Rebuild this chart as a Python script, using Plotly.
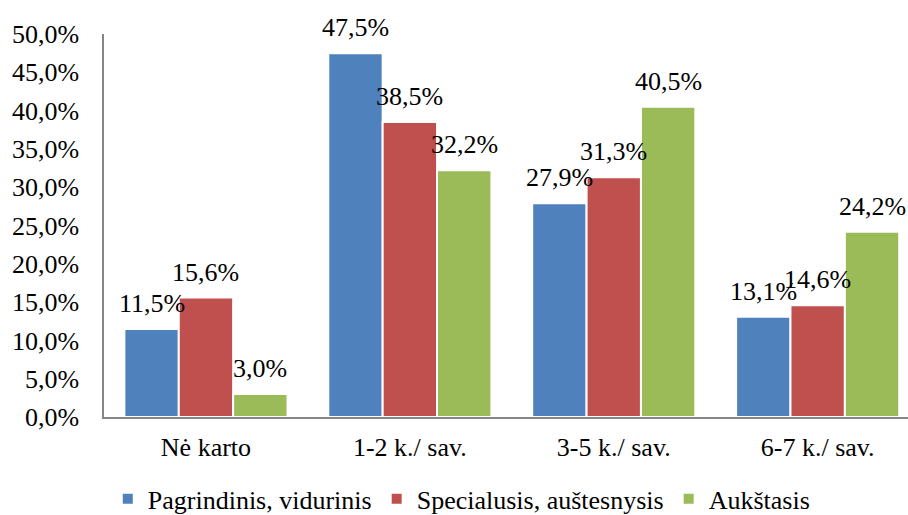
import plotly.graph_objects as go

categories = ["Nė karto", "1-2 k./ sav.", "3-5 k./ sav.", "6-7 k./ sav."]
series_names = ["Pagrindinis, vidurinis", "Specialusis, auštesnysis", "Aukštasis"]
pagrindinis = [11.5, 47.5, 27.9, 13.1]
specialusis = [15.6, 38.5, 31.3, 14.6]
aukstasis = [3.0, 32.2, 40.5, 24.2]
y_ticks = [0, 5, 10, 15, 20, 25, 30, 35, 40, 45, 50]
y_tick_labels = [f"{t:.1f}".replace(".", ",") + "%" for t in y_ticks]

colors = ["#4F81BD", "#C0504D", "#9BBB59"]
series = [pagrindinis, specialusis, aukstasis]
FONT = "Liberation Serif"
FS = 26

fig = go.Figure()
for name, vals, col in zip(series_names, series, colors):
    fig.add_trace(go.Bar(
        x=list(range(len(categories))), y=vals, name=name,
        marker=dict(color=col, line=dict(color="white", width=2)),
    ))

bargap = 0.2
slot = (1 - bargap) / 3
anns = []
for k, vals in enumerate(series):
    for i, v in enumerate(vals):
        anns.append(dict(
            x=i + (k - 1) * slot, y=v, xref="x", yref="y",
            text=f"{v:.1f}".replace(".", ",") + "%",
            showarrow=False, yanchor="bottom", yshift=9,
            font=dict(family=FONT, size=FS, color="black"),
        ))

fig.update_layout(
    width=908, height=515,
    margin=dict(l=104, r=0, t=34, b=98, autoexpand=False),
    paper_bgcolor="white", plot_bgcolor="white",
    barmode="group", bargap=bargap, bargroupgap=0,
    font=dict(family=FONT, size=FS, color="black"),
    showlegend=True,
    legend=dict(orientation="h", x=0.445, xanchor="center", y=-0.214, yanchor="middle",
                font=dict(family=FONT, size=FS, color="black"), itemwidth=30),
    annotations=anns,
)
fig.update_xaxes(
    tickmode="array", tickvals=list(range(len(categories))), ticktext=categories,
    range=[-0.5, 3.443], showline=True, linecolor="#868686", linewidth=1.5,
    showgrid=False, ticks="", ticklabelstandoff=6, zeroline=False, automargin=False,
    tickfont=dict(family=FONT, size=FS, color="black"),
)
fig.update_yaxes(
    range=[0, 50], tickmode="array", tickvals=y_ticks, ticktext=y_tick_labels,
    showline=True, linecolor="#868686", linewidth=1.5, showgrid=False,
    ticks="", ticklabelstandoff=18, zeroline=False, automargin=False,
    tickfont=dict(family=FONT, size=FS, color="black"),
)

fig.write_html("out.html")
